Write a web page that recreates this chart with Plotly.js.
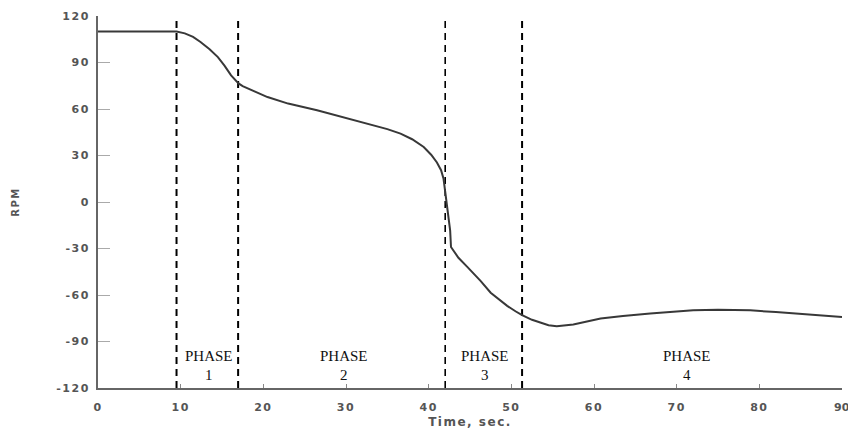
<!DOCTYPE html>
<html>
<head>
<meta charset="utf-8">
<script src="https://cdn.plot.ly/plotly-3.0.1.min.js"></script>
<style>
  html, body { margin: 0; padding: 0; background: #fff; }
  #chart { width: 848px; height: 434px; }
  .xtick text, .ytick text, .g-xtitle text, .g-ytitle text { letter-spacing: 1.5px; }
</style>
</head>
<body>
<div id="chart"></div>
<script>
// Time (s) and RPM
const timeSec = [0, 2, 4, 6, 8, 9.5, 10.5, 11.5, 12.4, 13.5, 14.5, 15.3, 16.1, 16.6, 17.0, 17.5, 18.1, 19, 20.5, 23, 26.5, 29.5, 32.6, 35, 36.6, 38, 39.4, 40.3, 41.0, 41.5, 41.8, 42.0, 42.2, 42.4, 42.5, 42.6, 42.7, 43.0, 43.6, 44.7, 46.3, 47.5, 48.5, 49.5, 50.5, 51.3, 52.5, 53.5, 54.5, 55.5, 57.5, 60.8, 63.5, 66.8, 69.5, 72, 75, 78.9, 82, 84.9, 87.5, 90];
const rpm = [110, 110, 110, 110, 110, 110, 108.8, 106.5, 103.2, 98.5, 93.5, 88, 81.7, 78.5, 76.5, 74.8, 73.2, 71.2, 67.7, 63.5, 59.2, 55, 50.6, 47, 44.1, 40.5, 35.5, 30.5, 25.5, 20.5, 15, 6, -2, -8, -16, -18.4, -29, -31.5, -36, -42, -51, -58.5, -63, -67, -70.5, -73, -76, -78, -79.5, -80.2, -79, -75.2, -73.5, -72, -71, -69.9, -69.5, -69.9, -71, -72, -73, -74.2];

// Phase boundaries (s)
const phaseBounds = [9.5, 16.95, 42.0, 51.3];
const boundWidths = [2, 2, 1.6, 2];

// Phase labels
const phaseNames = ["1", "2", "3", "4"];
const phaseLabelX = [13.4, 29.8, 46.8, 71.2];
const phaseWordY = -99.5;
const phaseNumY = -111.8;

const yTicks = [-120, -90, -60, -30, 0, 30, 60, 90, 120];
const xTicks = [0, 10, 20, 30, 40, 50, 60, 70, 80, 90];

const traces = [];
phaseBounds.forEach((b, i) => {
  traces.push({
    x: [b, b], y: [-120, 120], mode: 'lines', type: 'scatter',
    line: { color: '#000', width: boundWidths[i], dash: '7px,5px' },
    hoverinfo: 'skip', showlegend: false
  });
});
traces.push({
  x: timeSec, y: rpm, mode: 'lines', type: 'scatter',
  line: { color: '#383838', width: 2 },
  showlegend: false
});

const tickFont = { family: 'DejaVu Sans, Arial, sans-serif', size: 11, color: '#555', weight: 'bold' };

const annotations = [];
phaseNames.forEach((n, i) => {
  annotations.push({ x: phaseLabelX[i], y: phaseWordY, xref: 'x', yref: 'y', text: 'PHASE', showarrow: false,
    font: { family: 'Liberation Serif, Times New Roman, serif', size: 15, color: '#111' } });
  annotations.push({ x: phaseLabelX[i], y: phaseNumY, xref: 'x', yref: 'y', text: n, showarrow: false,
    font: { family: 'Liberation Serif, Times New Roman, serif', size: 15, color: '#111' } });
});
// last x tick label, partly cut by the right edge as in the reference
const lastTick = xTicks[xTicks.length - 1];
annotations.push({ x: lastTick, y: 0, xref: 'x', yref: 'paper', yanchor: 'top', yshift: -11,
  text: String(lastTick), showarrow: false, font: tickFont, xanchor: 'center' });

const layout = {
  width: 848, height: 434,
  margin: { l: 98, r: 6, t: 16, b: 46, pad: 0 },
  paper_bgcolor: '#fff', plot_bgcolor: '#fff',
  showlegend: false,
  xaxis: {
    range: [0, 90], tickvals: xTicks, ticktext: xTicks.map(String),
    showgrid: false, zeroline: false, showline: true, linecolor: '#666', linewidth: 2,
    ticks: 'inside', ticklen: 4, tickcolor: '#888', tickwidth: 1,
    tickfont: tickFont, ticklabelstandoff: 8,
    title: { text: 'Time, sec.', font: { family: 'DejaVu Sans, Arial, sans-serif', size: 12, color: '#555', weight: 'bold' }, standoff: 4 }
  },
  yaxis: {
    range: [-120, 120], tickvals: yTicks, ticktext: yTicks.map(String),
    showgrid: false, zeroline: false, showline: true, linecolor: '#666', linewidth: 2,
    ticks: 'inside', ticklen: 12, tickcolor: '#aaa', tickwidth: 1,
    tickfont: tickFont, ticklabelstandoff: 4,
    title: { text: 'RPM', font: { family: 'DejaVu Sans, Arial, sans-serif', size: 10, color: '#555', weight: 'bold' }, standoff: 35 }
  },
  annotations: annotations
};

Plotly.newPlot('chart', traces, layout, { displayModeBar: false, staticPlot: true });
</script>
</body>
</html>
